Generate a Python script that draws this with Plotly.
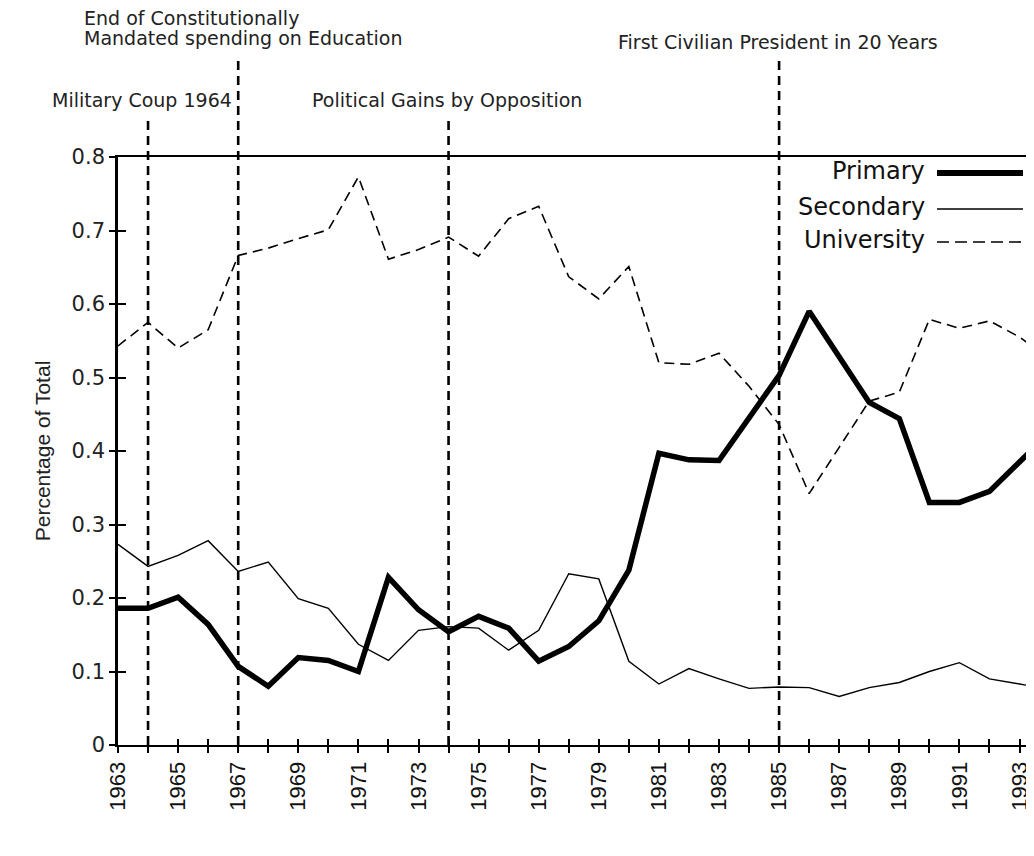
import plotly.graph_objects as go

years = list(range(1963, 1995))
primary = [0.186, 0.186, 0.201, 0.164, 0.107, 0.080, 0.119, 0.115, 0.100, 0.228,
           0.184, 0.154, 0.175, 0.159, 0.114, 0.134, 0.169, 0.238, 0.397, 0.388,
           0.387, 0.444, 0.503, 0.590, 0.528, 0.466, 0.444, 0.330, 0.330, 0.345,
           0.385, 0.425]
secondary = [0.273, 0.243, 0.258, 0.278, 0.236, 0.249, 0.199, 0.186, 0.137, 0.115,
             0.156, 0.161, 0.159, 0.129, 0.156, 0.233, 0.226, 0.114, 0.083, 0.104,
             0.090, 0.077, 0.079, 0.078, 0.066, 0.078, 0.085, 0.100, 0.112, 0.090,
             0.083, 0.076]
university = [0.543, 0.575, 0.540, 0.565, 0.666, 0.676, 0.689, 0.701, 0.773, 0.661,
              0.674, 0.691, 0.665, 0.716, 0.733, 0.637, 0.607, 0.651, 0.520, 0.518,
              0.533, 0.488, 0.436, 0.342, 0.405, 0.468, 0.480, 0.579, 0.567, 0.577,
              0.555, 0.525]

event_years = [1964, 1967, 1974, 1985]
event_tops = [1.063, 1.165, 1.063, 1.165]

y_ticks = [0, 0.1, 0.2, 0.3, 0.4, 0.5, 0.6, 0.7, 0.8]
y_ticktext = ["0", "0.1", "0.2", "0.3", "0.4", "0.5", "0.6", "0.7", "0.8"]
x_ticks = years
x_ticktext = [str(y) if y % 2 == 1 else "" for y in years]

series_names = ["Primary", "Secondary", "University"]

# screen geometry (page body has an 8px margin)
OFF = 8
SW, SH = 1034, 856
L, T, BOT, RIGHT = 118, 157, 745, 1034
PW, PH = RIGHT - L, BOT - T


def px(x):
    return (x - L) / PW


def py(y):
    return (BOT - y) / PH


FONT = "DejaVu Sans, Liberation Sans, sans-serif"

fig = go.Figure()

styles = {
    "Primary": dict(color="black", width=5.5),
    "Secondary": dict(color="black", width=1.4),
    "University": dict(color="black", width=1.6, dash="10px,6px"),
}
for name, vals in zip(series_names, [primary, secondary, university]):
    fig.add_trace(go.Scatter(x=years, y=vals, mode="lines", name=name,
                             line=styles[name], showlegend=False,
                             hoverinfo="x+y+name"))

# dummy trace for overlay axes (crossing ticks)
fig.add_trace(go.Scatter(x=[None], y=[None], xaxis="x2", yaxis="y2",
                         showlegend=False, hoverinfo="skip"))

# event lines
for ey, top in zip(event_years, event_tops):
    fig.add_shape(type="line", xref="x", yref="paper", x0=ey, x1=ey, y0=0, y1=top,
                  line=dict(color="black", width=2.6, dash="9px,6px"))

# annotations
ann_font = dict(family=FONT, size=19, color="#222")
fig.add_annotation(text="End of Constitutionally", xref="paper", yref="paper",
                   x=px(82), y=py(18), xanchor="left", yanchor="middle",
                   showarrow=False, font=ann_font)
fig.add_annotation(text="Mandated spending on Education", xref="paper", yref="paper",
                   x=px(82), y=py(38), xanchor="left", yanchor="middle",
                   showarrow=False, font=ann_font)
fig.add_annotation(text="Military Coup 1964", xref="paper", yref="paper",
                   x=px(234), y=py(100), xanchor="right", yanchor="middle",
                   showarrow=False, font=ann_font)
fig.add_annotation(text="Political Gains by Opposition", xref="paper", yref="paper",
                   x=px(310), y=py(100), xanchor="left", yanchor="middle",
                   showarrow=False, font=ann_font)
fig.add_annotation(text="First Civilian President in 20 Years", xref="paper", yref="paper",
                   x=px(616), y=py(42), xanchor="left", yanchor="middle",
                   showarrow=False, font=ann_font)

# custom legend (line sample to the right of the text)
leg_y = [171, 207, 240]
for name, ly in zip(series_names, leg_y):
    fig.add_annotation(text=name, xref="paper", yref="paper",
                       x=px(927), y=py(ly), xanchor="right", yanchor="middle",
                       showarrow=False, font=dict(family=FONT, size=24, color="#111"))
    st = dict(styles[name])
    if name == "University":
        st["dash"] = "12px,6px"
    if name == "Primary":
        st["width"] = 6
    fig.add_shape(type="line", xref="paper", yref="paper",
                  x0=px(937), x1=px(1023), y0=py(ly + 2), y1=py(ly + 2), line=st)

xr = [1963, 1963 + PW / 30.05]
yr = [0, 0.8]

fig.update_layout(
    width=SW - OFF, height=SH - OFF,
    margin=dict(l=L - OFF, r=SW - RIGHT, t=T - OFF, b=SH - BOT, autoexpand=False),
    paper_bgcolor="white", plot_bgcolor="white",
    font=dict(family=FONT, color="#111"),
    xaxis=dict(range=xr, tickmode="array", tickvals=x_ticks, ticktext=x_ticktext,
               tickangle=-90, ticks="outside", ticklen=6, tickwidth=1.6,
               tickcolor="black", showline=True, linecolor="black", linewidth=2,
               mirror=True, showgrid=False, zeroline=False, automargin=False,
               tickfont=dict(family="Liberation Sans, Arial, sans-serif", size=22,
                             color="#111")),
    xaxis2=dict(range=xr, overlaying="x", anchor="y", side="bottom",
                tickmode="array", tickvals=x_ticks, ticks="inside", ticklen=6,
                tickwidth=1.6, tickcolor="black", showticklabels=False,
                showline=False, showgrid=False, zeroline=False),
    yaxis=dict(range=yr, tickmode="array", tickvals=y_ticks, ticktext=y_ticktext,
               ticks="outside", ticklen=6, tickwidth=1.6, tickcolor="black",
               showline=True, linecolor="black", linewidth=2.6,
               showgrid=False, zeroline=False, automargin=False,
               tickfont=dict(family=FONT, size=21, color="#222"),
               title=dict(text="Percentage of Total", standoff=16,
                          font=dict(family="Liberation Sans Narrow, Liberation Sans, Arial Narrow, sans-serif",
                                    size=21, color="#222"))),
    yaxis2=dict(range=yr, overlaying="y", anchor="x", side="left",
                tickmode="array", tickvals=y_ticks, ticks="inside", ticklen=8,
                tickwidth=1.6, tickcolor="black", showticklabels=False,
                showline=False, showgrid=False, zeroline=False),
)

fig.write_html("out.html")
